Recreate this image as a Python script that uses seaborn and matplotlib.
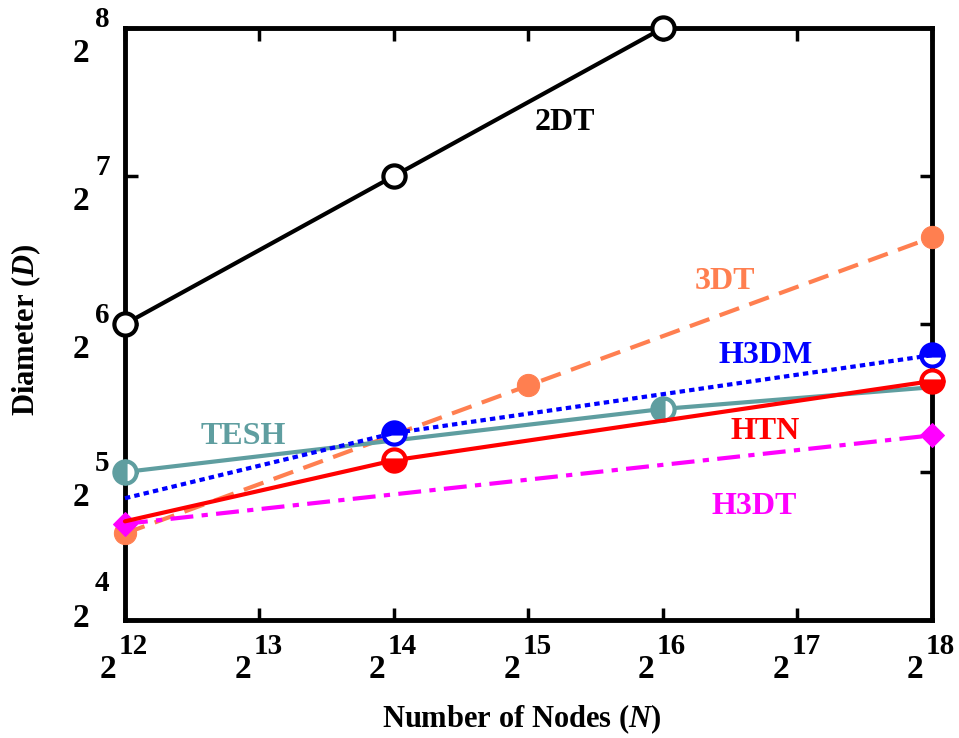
import numpy as np
import pandas as pd
import seaborn as sns
import matplotlib
matplotlib.use("Agg")
import matplotlib.pyplot as plt
import matplotlib.transforms as mtransforms

# ---- data (x and y in raw units; both axes log2) ----
x_2dt = [2**12, 2**14, 2**16]
y_2dt = [64, 128, 256]
x_3dt = [2**12, 2**15, 2**18]
y_3dt = [24, 48, 96]
x_h3dm = [2**12, 2**14, 2**18]
y_h3dm = [28.3, 38.4, 55.3]
x_tesh = [2**12, 2**16, 2**18]
y_tesh = [32, 43, 47.6]
x_htn = [2**12, 2**14, 2**18]
y_htn = [25.4, 33.8, 49]
x_h3dt = [2**12, 2**18]
y_h3dt = [25.1, 38]

x_exp = [12, 13, 14, 15, 16, 17, 18]
y_exp = [4, 5, 6, 7, 8]
xticks = [2**k for k in x_exp]
yticks = [2**k for k in y_exp]

sns.set_style("white")
plt.rcParams['font.family'] = ['Liberation Serif', 'DejaVu Serif']
plt.rcParams['font.weight'] = 'bold'
plt.rcParams['text.color'] = 'black'
plt.rcParams['axes.labelcolor'] = 'black'
plt.rcParams['xtick.color'] = 'black'
plt.rcParams['ytick.color'] = 'black'
plt.rcParams['mathtext.fontset'] = 'custom'
plt.rcParams['mathtext.rm'] = 'Liberation Serif:bold'
plt.rcParams['mathtext.bf'] = 'Liberation Serif:bold'
plt.rcParams['mathtext.it'] = 'Liberation Serif:italic:bold'

fig = plt.figure(figsize=(9.59, 7.38), dpi=100)
ax = fig.add_axes([0.1303, 0.1599, 0.8415, 0.8021])

def series(x, y, **kw):
    df = pd.DataFrame({"x": x, "y": y})
    sns.lineplot(data=df, x="x", y="y", ax=ax, sort=False, clip_on=False, **kw)

lw = 3
ms = 16
series(x_3dt, y_3dt, color="#FF7F50", linestyle=(0, (5, 2.6)), linewidth=lw,
       marker="o", markersize=ms, markerfacecolor="#FF7F50", markeredgecolor="#FF7F50", zorder=3)
series(x_h3dt, y_h3dt, color="#FF00FF", linestyle=(0, (5.5, 2, 1.5, 2)), linewidth=lw,
       marker="D", markersize=12, markerfacecolor="#FF00FF", markeredgecolor="#FF00FF", zorder=4)
series(x_tesh, y_tesh, color="#5F9EA0", linestyle="-", linewidth=lw,
       marker="o", markersize=ms, fillstyle="left", markerfacecolor="#5F9EA0",
       markerfacecoloralt="white", markeredgecolor="#5F9EA0",
       markeredgewidth=3, markevery=[0, 1], zorder=4)
series(x_h3dm[1:], y_h3dm[1:], color="#0000FF", linestyle="none", linewidth=0,
       marker="o", markersize=ms, fillstyle="top", markerfacecolor="#0000FF",
       markerfacecoloralt="white", markeredgecolor="#0000FF", markeredgewidth=3, zorder=5)
series(x_h3dm, y_h3dm, color="#0000FF", linestyle=(0, (1.3, 1)), linewidth=lw, zorder=6)
series(x_htn, y_htn, color="#FF0000", linestyle="-", linewidth=lw,
       marker="o", markersize=ms, fillstyle="bottom", markerfacecolor="#FF0000",
       markerfacecoloralt="white", markeredgecolor="#FF0000", markeredgewidth=3,
       markevery=[1, 2], zorder=6)
series(x_2dt, y_2dt, color="black", linestyle="-", linewidth=lw,
       marker="o", markersize=ms, markerfacecolor="white", markeredgecolor="black",
       markeredgewidth=3, zorder=7)

ax.set_xscale("log", base=2)
ax.set_yscale("log", base=2)
ax.set_xlim(2**12, 2**18)
ax.set_ylim(2**4, 2**8)
ax.minorticks_off()
ax.set_xticks(xticks)
ax.set_yticks(yticks)
ax.set_xticklabels(["2"] * len(xticks))
ax.set_yticklabels(["2"] * len(yticks))
ax.tick_params(direction="in", length=9, width=2.5, top=True, right=True,
               left=True, bottom=True, pad=0, labelsize=24)
for s in ax.spines.values():
    s.set_linewidth(3.5)
    s.set_color("black")

# tick-label placement: base "2" plus exponent, as in the original
offx = mtransforms.ScaledTranslation(-17/100, -58/100, fig.dpi_scale_trans)
for lab in ax.get_xticklabels():
    lab.set_fontweight("bold")
    lab.set_fontsize(24)
    lab.set_verticalalignment("baseline")
    lab.set_horizontalalignment("center")
    lab.set_transform(lab.get_transform() + offx)
for k, lab in zip(y_exp, ax.get_yticklabels()):
    dy = -7 if k == 4 else -34
    off = mtransforms.ScaledTranslation(-36/100, dy/100, fig.dpi_scale_trans)
    lab.set_fontweight("bold")
    lab.set_fontsize(24)
    lab.set_verticalalignment("baseline")
    lab.set_horizontalalignment("right")
    lab.set_transform(lab.get_transform() + off)

for k in x_exp:
    ax.annotate(str(k), xy=(2**k, 0), xycoords=ax.get_xaxis_transform(),
                xytext=(-6, -34), textcoords="offset pixels", ha="left", va="baseline",
                fontsize=21, fontweight="bold", annotation_clip=False)
for k in y_exp:
    dy = 29 if k == 4 else 1
    ax.annotate(str(k), xy=(0, 2**k), xycoords=ax.get_yaxis_transform(),
                xytext=(-30, dy), textcoords="offset pixels", ha="left", va="baseline",
                fontsize=21, fontweight="bold", annotation_clip=False)

ax.set_xlabel(r"Number of Nodes ($N$)", fontsize=22, fontweight="bold")
ax.set_ylabel(r"Diameter ($D$)", fontsize=22, fontweight="bold")
ax.xaxis.set_label_coords(0.492, -0.1385)
ax.yaxis.set_label_coords(-0.102, 0.49)

# series annotations
lab_kw = dict(fontsize=23, fontweight="bold", ha="center", va="center")
ax.text(2**15.27, 2**7.365, "2DT", color="black", **lab_kw)
ax.text(2**16.46, 2**6.284, "3DT", color="#FF7F50", **lab_kw)
ax.text(2**16.76, 2**5.79, "H3DM", color="#0000FF", **lab_kw)
ax.text(2**12.88, 2**5.243, "TESH", color="#5F9EA0", **lab_kw)
ax.text(2**16.76, 2**5.277, "HTN", color="#FF0000", **lab_kw)
ax.text(2**16.68, 2**4.77, "H3DT", color="#FF00FF", **lab_kw)

fig.savefig("out.png", dpi=100)
